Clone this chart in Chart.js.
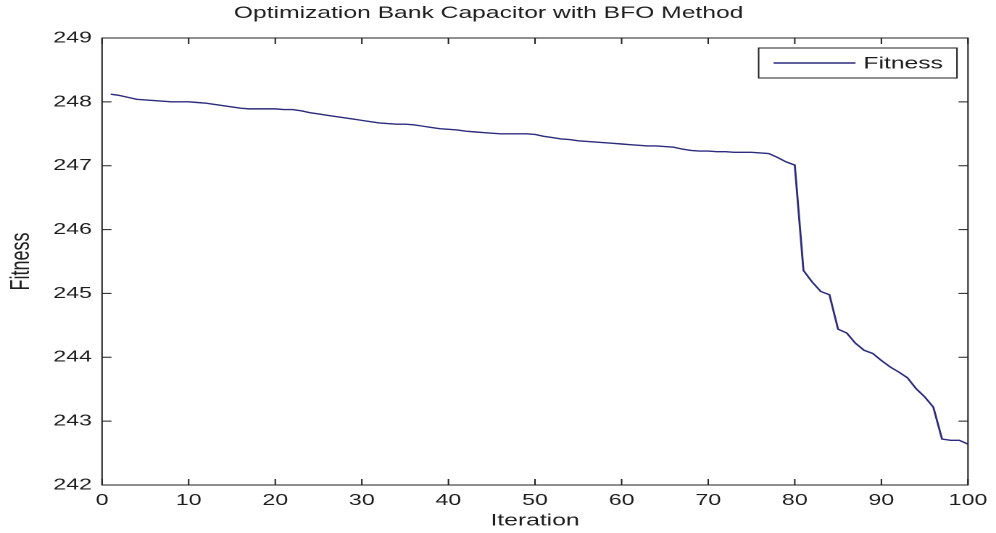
<!DOCTYPE html>
<html>
<head>
<meta charset="utf-8">
<script src="https://cdn.jsdelivr.net/npm/chart.js@4/dist/chart.umd.min.js"></script>
<style>
    html, body { margin: 0; padding: 0; background: #fff; overflow: hidden; }
    /* the reference figure is stretched sideways, so the chart is drawn narrow and widened */
    #wrap { width: 687px; height: 533px; transform: scaleX(1.4498); transform-origin: 0 0; }
</style>
</head>
<body>
<div id="wrap"><canvas id="fitnessChart"></canvas></div>
<script>
// Chart data
const iterations = [
    1, 2, 3, 4, 5, 6, 7, 8, 9, 10, 11, 12, 13, 14, 15, 16, 17, 18, 19, 20,
    21, 22, 23, 24, 25, 26, 27, 28, 29, 30, 31, 32, 33, 34, 35, 36, 37, 38, 39, 40,
    41, 42, 43, 44, 45, 46, 47, 48, 49, 50, 51, 52, 53, 54, 55, 56, 57, 58, 59, 60,
    61, 62, 63, 64, 65, 66, 67, 68, 69, 70, 71, 72, 73, 74, 75, 76, 77, 78, 79, 80,
    81, 82, 83, 84, 85, 86, 87, 88, 89, 90, 91, 92, 93, 94, 95, 96, 97, 98, 99, 100
];

const fitness = [
    248.12, 248.10, 248.07, 248.04, 248.03, 248.02, 248.01, 248.00, 248.00, 248.00,
    247.99, 247.98, 247.96, 247.94, 247.92, 247.90, 247.89, 247.89, 247.89, 247.89,
    247.88, 247.88, 247.86, 247.83, 247.81, 247.79, 247.77, 247.75, 247.73, 247.71,
    247.69, 247.67, 247.66, 247.65, 247.65, 247.64, 247.62, 247.60, 247.58, 247.57,
    247.56, 247.54, 247.53, 247.52, 247.51, 247.50, 247.50, 247.50, 247.50, 247.49,
    247.46, 247.44, 247.42, 247.41, 247.39, 247.38, 247.37, 247.36, 247.35, 247.34,
    247.33, 247.32, 247.31, 247.31, 247.30, 247.29, 247.26, 247.24, 247.23, 247.23,
    247.22, 247.22, 247.21, 247.21, 247.21, 247.20, 247.19, 247.13, 247.06, 247.01,
    245.36, 245.18, 245.03, 244.98, 244.44, 244.38, 244.22, 244.11, 244.06, 243.95,
    243.85, 243.77, 243.68, 243.51, 243.38, 243.22, 242.72, 242.70, 242.70, 242.64
];

const xTicks = [0, 10, 20, 30, 40, 50, 60, 70, 80, 90, 100];
const yTicks = [242, 243, 244, 245, 246, 247, 248, 249];

const chartTitle = 'Optimization Bank Capacitor with BFO Method';
const xLabel = 'Iteration';
const yLabel = 'Fitness';
const seriesName = 'Fitness';

const FONT = 'Arial, "Liberation Sans", Helvetica, sans-serif';
const INK = '#1e1e1e';
const LINE_COLOR = '#2c2c7c';

// MATLAB style: closed box with inward ticks on all four sides, plus a boxed legend
const matlabAxes = {
    id: 'matlabAxes',
    afterDatasetsDraw(chart) {
        const { ctx, chartArea: a, scales } = chart;
        ctx.save();
        ctx.strokeStyle = INK;
        ctx.lineWidth = 1;
        ctx.strokeRect(a.left, a.top, a.right - a.left, a.bottom - a.top);

        ctx.beginPath();
        scales.x.ticks.forEach(t => {
            const px = scales.x.getPixelForValue(t.value);
            ctx.moveTo(px, a.bottom); ctx.lineTo(px, a.bottom - 6);
            ctx.moveTo(px, a.top); ctx.lineTo(px, a.top + 6);
        });
        scales.y.ticks.forEach(t => {
            const py = scales.y.getPixelForValue(t.value);
            ctx.moveTo(a.left, py); ctx.lineTo(a.left + 6.5, py);
            ctx.moveTo(a.right, py); ctx.lineTo(a.right - 6.5, py);
        });
        ctx.stroke();

        // legend
        const ds = chart.data.datasets[0];
        ctx.font = '17px ' + FONT;
        const textW = ctx.measureText(ds.label).width;
        const boxRight = a.right - 7.6;
        const boxTop = a.top + 10;
        const boxH = 30;
        const textRight = boxRight - 9.7;
        const textLeft = textRight - textW;
        const lineEnd = textLeft - 5.5;
        const lineStart = lineEnd - 56.5;
        const boxLeft = lineStart - 10.3;
        const midY = boxTop + boxH / 2;

        ctx.fillStyle = '#fff';
        ctx.fillRect(boxLeft, boxTop, boxRight - boxLeft, boxH);
        ctx.strokeRect(boxLeft, boxTop, boxRight - boxLeft, boxH);

        ctx.beginPath();
        ctx.strokeStyle = ds.borderColor;
        ctx.lineWidth = ds.borderWidth;
        ctx.moveTo(lineStart, midY);
        ctx.lineTo(lineEnd, midY);
        ctx.stroke();

        ctx.fillStyle = INK;
        ctx.textBaseline = 'middle';
        ctx.textAlign = 'left';
        ctx.fillText(ds.label, textLeft, midY + 1);
        ctx.restore();
    }
};

const ctx = document.getElementById('fitnessChart').getContext('2d');
new Chart(ctx, {
    type: 'line',
    data: {
        datasets: [{
            label: seriesName,
            data: iterations.map((it, i) => ({ x: it, y: fitness[i] })),
            borderColor: LINE_COLOR,
            borderWidth: 1.4,
            pointRadius: 0,
            tension: 0,
            fill: false
        }]
    },
    options: {
        responsive: true,
        maintainAspectRatio: false,
        animation: false,
        devicePixelRatio: 2,
        layout: { padding: { left: 0, right: 13, top: 0, bottom: 0 } },
        plugins: {
            legend: { display: false },
            tooltip: { enabled: false },
            title: {
                display: true,
                text: chartTitle,
                color: INK,
                font: { family: FONT, size: 17, weight: 'normal', lineHeight: 1.2 },
                padding: { top: 3, bottom: 14.6 }
            }
        },
        scales: {
            x: {
                type: 'linear',
                min: 0,
                max: 100,
                afterBuildTicks: scale => { scale.ticks = xTicks.map(v => ({ value: v })); },
                afterFit: scale => { scale.height = 48; },
                grid: { display: false, drawTicks: false },
                border: { display: false },
                ticks: {
                    color: INK,
                    padding: 6,
                    font: { family: FONT, size: 16 },
                    maxRotation: 0
                },
                title: {
                    display: true,
                    text: xLabel,
                    color: INK,
                    font: { family: FONT, size: 17 },
                    padding: { top: 0, bottom: 2 }
                }
            },
            y: {
                type: 'linear',
                min: 242,
                max: 249,
                afterBuildTicks: scale => { scale.ticks = yTicks.map(v => ({ value: v })); },
                afterFit: scale => { scale.width = 70.4; },
                grid: { display: false, drawTicks: false },
                border: { display: false },
                ticks: {
                    color: INK,
                    padding: 7,
                    font: { family: FONT, size: 16 }
                },
                title: {
                    display: true,
                    text: yLabel,
                    color: INK,
                    font: { family: FONT, size: 18 },
                    padding: { top: 4, bottom: 0 }
                }
            }
        }
    },
    plugins: [matlabAxes]
});
</script>
</body>
</html>
